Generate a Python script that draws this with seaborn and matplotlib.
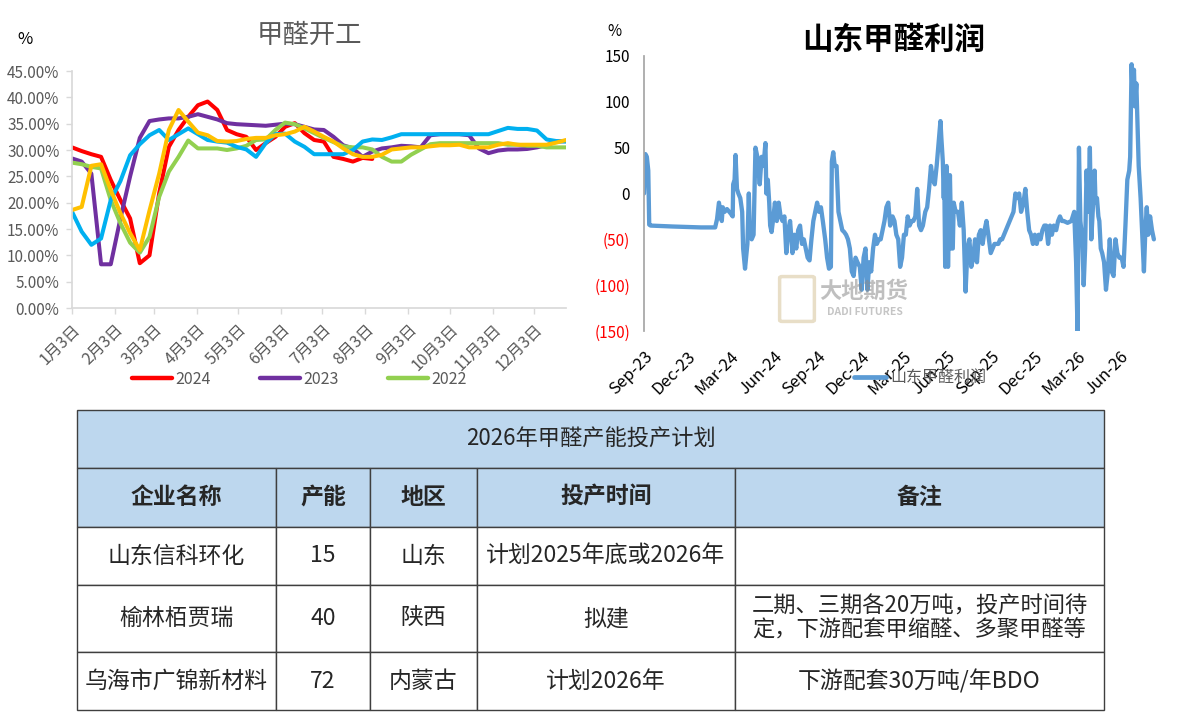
"""甲醛开工 / 山东甲醛利润 / 2026年投产计划"""

import numpy as np
import pandas as pd
import matplotlib
matplotlib.use("Agg")
import matplotlib.pyplot as plt
import matplotlib.dates as mdates
from matplotlib.lines import Line2D
from matplotlib.patches import FancyBboxPatch
from matplotlib.ticker import PercentFormatter
import seaborn as sns


# ---- 左图: 甲醛开工率 (周度, %) ----
rate_2024 = [30.5, 29.8, 29.2, 28.7, 24.3, 20.5, 17.0, 8.5, 10.0, 21.8,
             30.6, 33.8, 36.3, 38.5, 39.2, 37.6, 33.8, 33.0, 32.5, 30.0,
             31.3, 32.5, 34.4, 35.1, 33.2, 31.9, 31.6, 28.7, 28.3, 27.8,
             28.5, 28.3]
rate_2023 = [28.4, 27.8, 25.5, 8.3, 8.3, 17.0, 25.0, 32.3, 35.5, 35.8,
             36.0, 36.0, 36.3, 36.8, 36.3, 35.8, 35.1, 34.9, 34.8, 34.7,
             34.6, 34.8, 35.0, 34.9, 34.4, 33.9, 33.8, 32.5, 30.9, 30.3,
             28.7, 29.7, 30.3, 30.5, 30.8, 30.7, 30.5, 32.8, 33.0, 33.0,
             33.0, 32.8, 30.3, 29.4, 29.9, 30.1, 30.1, 30.2, 30.5, 30.9,
             31.6, 31.7]
rate_2022 = [27.6, 27.3, 26.8, 26.5, 20.5, 16.1, 12.4, 10.5, 13.5, 21.1,
             25.9, 28.7, 31.8, 30.3, 30.3, 30.3, 30.0, 30.3, 30.8, 31.9,
             32.0, 33.8, 35.2, 34.9, 34.1, 33.2, 32.3, 31.5, 30.7, 30.5,
             30.5, 30.1, 28.7, 27.8, 27.8, 29.1, 30.1, 31.1, 31.3, 31.3,
             31.3, 31.3, 31.3, 31.3, 31.3, 31.0, 31.0, 30.8, 30.8, 30.5,
             30.5, 30.5]
rate_2021 = [18.3, 14.5, 12.0, 13.2, 20.5, 24.1, 29.0, 31.1, 32.8, 33.8,
             31.9, 33.0, 34.1, 33.0, 31.9, 31.6, 31.4, 30.6, 30.1, 28.7,
             31.3, 33.0, 33.1, 31.6, 30.6, 29.2, 29.2, 29.2, 29.2, 30.0,
             31.6, 32.0, 31.9, 32.4, 33.0, 33.0, 33.0, 33.0, 33.0, 33.0,
             33.0, 33.0, 33.0, 33.0, 33.6, 34.2, 34.0, 34.0, 33.7, 32.0,
             31.7, 31.6]
rate_2025 = [18.6, 19.2, 27.0, 27.3, 22.4, 18.0, 14.2, 11.0, 18.5, 25.5,
             33.8, 37.6, 35.4, 33.3, 32.8, 31.7, 31.6, 31.7, 32.1, 32.3,
             32.3, 32.8, 33.0, 33.5, 34.4, 33.5, 32.5, 31.6, 30.3, 29.2,
             28.7, 28.7, 29.1, 30.1, 30.3, 30.5, 30.5, 30.7, 30.9, 30.9,
             31.0, 30.5, 30.5, 30.5, 31.0, 31.3, 31.0, 31.0, 31.0, 31.0,
             31.4, 31.9]
years = ["2024", "2023", "2022", "2021", "2025"]
year_colors = ["#FF0000", "#7030A0", "#92D050", "#00B0F0", "#FFC000"]
legend_years = ["2024", "2023", "2022"]
month_labels = [f"{m}月3日" for m in range(1, 13)]

# ---- 右图: 山东甲醛利润 (距2023-09-01天数, 元/吨) ----
profit_days = [0, 3, 6, 9, 11, 14, 60, 120, 150, 154, 158, 161, 164, 166, 170,
               175, 183, 187, 188, 191, 193, 196, 199, 203, 207, 209, 213, 218,
               221, 223, 227, 231, 235, 239, 244, 248, 252, 256, 258, 261, 264,
               266, 269, 273, 276, 280, 284, 288, 292, 296, 300, 304, 308, 313,
               317, 321, 325, 329, 333, 337, 341, 345, 349, 353, 357, 361, 365,
               369, 373, 377, 382, 386, 390, 394, 396, 399, 402, 406, 410, 414,
               418, 422, 426, 430, 434, 438, 442, 446, 450, 455, 459, 463, 467,
               471, 475, 479, 483, 487, 491, 495, 499, 503, 507, 511, 515, 519,
               524, 528, 532, 536, 540, 544, 548, 552, 556, 560, 564, 568, 572,
               576, 580, 584, 588, 593, 597, 601, 605, 609, 613, 617, 621, 625,
               627, 630, 632, 633, 635, 638, 641, 645, 648, 651, 653, 657, 662,
               666, 670, 674, 678, 682, 686, 690, 694, 698, 702, 706, 710, 714,
               718, 722, 726, 731, 735, 739, 743, 747, 751, 755, 759, 763, 767,
               771, 775, 779, 783, 787, 791, 795, 800, 804, 808, 812, 816, 820,
               824, 828, 832, 836, 840, 844, 848, 852, 856, 860, 864, 869, 873,
               877, 881, 885, 893, 901, 907, 911, 914, 917, 920, 924, 927, 930,
               933, 937, 940, 943, 946, 950, 952, 955, 958, 960, 963, 966, 970,
               974, 978, 982, 986, 990, 994, 998, 1002, 1007, 1011, 1015, 1019,
               1023, 1025, 1028, 1030, 1033, 1035, 1038, 1043, 1047, 1051, 1054,
               1057, 1060, 1063, 1067, 1071, 1075]
profit_vals = [0, 43, 40, 25, -34, -35, -36, -37, -37, -28, -10, -20, -30, -15, -20,
               -17, -22, -25, 10, 15, 42, 5, 0, -5, -20, -60, -82, -55,
               0, -40, -50, -45, 50, 40, 10, 40, 30, 55, 0, 15, -10,
               -35, -42, -25, -10, -30, -10, -25, -30, -25, -65, -40, -30, -65,
               -45, -60, -40, -35, -55, -50, -60, -70, -73, -50, -30, -20, -10,
               -20, -15, -30, -50, -70, -82, -80, 35, 45, 30, 30, -20, -30,
               -40, -42, -45, -50, -60, -85, -90, -70, -75, -80, -105, -70, -60,
               -105, -75, -85, -60, -45, -55, -50, -50, -40, -30, -15, -10, -35,
               -25, -30, -45, -50, -80, -70, -45, -45, -25, -35, -30, -30, -25,
               5, -35, -40, -35, -20, -15, 5, 30, 15, 10, 30, 55, 79,
               60, 35, -5, 20, -80, 30, -80, 20, -60, -60, -10, -20, -20,
               -35, -10, -40, -107, -60, -50, -80, -70, -50, -75, -45, -40, -55,
               -40, -30, -45, -65, -60, -55, -55, -55, -50, -50, -45, -40, -35,
               -30, -25, -20, 0, -5, 0, -20, -10, 5, -20, -40, -45, -55,
               -45, -55, -45, -50, -40, -35, -35, -55, -35, -45, -35, -40, -30,
               -25, -30, -30, -32, -30, -20, -75, -150, 50, -30, -50, -100, -60,
               25, -20, 50, -50, -20, 25, -10, -5, -25, -30, -60, -65, -75,
               -105, -85, -50, -85, -90, -50, -65, -70, -70, -80, -35, 15,
               25, 40, 141, 110, 135, 95, 120, 30, -5, -50, -85,
               -40, -15, -45, -25, -40, -50]
profit_ticks = [-150, -100, -50, 0, 50, 100, 150]
profit_tick_labels = ["(150)", "(100)", "(50)", "0", "50", "100", "150"]
profit_xticks = ["2023-09-01", "2023-12-01", "2024-03-01", "2024-06-01",
                 "2024-09-01", "2024-12-01", "2025-03-01", "2025-06-01",
                 "2025-09-01", "2025-12-01", "2026-03-01", "2026-06-01"]

# ---- 表格 ----
table_title = "2026年甲醛产能投产计划"
col_labels = ["企业名称", "产能", "地区", "投产时间", "备注"]
companies = ["山东信科环化", "榆林栢贾瑞", "乌海市广锦新材料"]
capacity = [15, 40, 72]
regions = ["山东", "陕西", "内蒙古"]
start_time = ["计划2025年底或2026年", "拟建", "计划2026年"]
remarks = ["", "二期、三期各20万吨，投产时间待\n定，下游配套甲缩醛、多聚甲醛等",
           "下游配套30万吨/年BDO"]


sns.set_theme(style="white")
plt.rcParams["font.family"] = ["Noto Sans CJK SC", "DejaVu Sans"]
plt.rcParams["axes.unicode_minus"] = False

W, H = 1193, 712
fig = plt.figure(figsize=(W / 100, H / 100), dpi=100)


def fx(px):
    return px / W


def fy(py):
    return 1 - py / H


# ========== 左图 ==========
ax1 = fig.add_axes([fx(72), fy(308), fx(494), 237 / H])
weeks = pd.date_range("2023-01-03", periods=52, freq="7D")
frames = []
for yr, vals in zip(years, [rate_2024, rate_2023, rate_2022, rate_2021, rate_2025]):
    frames.append(pd.DataFrame({"date": weeks[:len(vals)],
                                "rate": np.array(vals) / 100,
                                "year": yr}))
df = pd.concat(frames, ignore_index=True)
sns.lineplot(data=df, x="date", y="rate", hue="year", hue_order=years,
             palette=year_colors, linewidth=2.9, ax=ax1, legend=False,
             estimator=None)
ax1.set_ylim(0, 0.45)
ax1.set_yticks(np.arange(0, 0.451, 0.05))
ax1.yaxis.set_major_formatter(PercentFormatter(xmax=1, decimals=2))
ax1.set_xlim(weeks[0], weeks[-1])
month_ticks = pd.date_range("2023-01-01", periods=12, freq="MS") + pd.Timedelta(days=2)
ax1.set_xticks(month_ticks)
ax1.set_xticklabels(month_labels, rotation=45, ha="right", rotation_mode="anchor")
ax1.set_xlabel("")
ax1.set_ylabel("")
for s in ["top", "right"]:
    ax1.spines[s].set_visible(False)
for s in ["left", "bottom"]:
    ax1.spines[s].set_color("#D9D9D9")
ax1.tick_params(axis="both", length=4, width=1, color="#D9D9D9",
                labelcolor="#595959", labelsize=11, direction="out",
                left=True, bottom=True)
ax1.tick_params(axis="x", pad=5, labelsize=11.5)
ax1.tick_params(axis="y", pad=5)

handles = [Line2D([0], [0], color=year_colors[years.index(y)], lw=3.2)
           for y in legend_years]
ax1.legend(handles, legend_years, loc="center", bbox_to_anchor=(0.46, -0.30),
           ncol=3, frameon=False, fontsize=11.5, handlelength=2.5,
           columnspacing=3.1, handletextpad=0.2, labelcolor="#595959")

fig.text(fx(309), fy(35), "甲醛开工", ha="center", va="center",
         fontsize=19, color="#595959")
fig.text(fx(25), fy(40), "%", ha="center", va="center", fontsize=12,
         color="black")

# ========== 右图 ==========
ax2 = fig.add_axes([fx(644), fy(331), fx(517), 275 / H])
start = pd.Timestamp("2023-09-01")
pdf = pd.DataFrame({"date": start + pd.to_timedelta(profit_days, unit="D"),
                    "profit": profit_vals})
sns.lineplot(data=pdf, x="date", y="profit", color="#5B9BD5", linewidth=3.1,
             ax=ax2, estimator=None)
ax2.set_ylim(-150, 150)
ax2.set_xlim(start, start + pd.Timedelta(days=1090))
ax2.set_yticks(profit_ticks)
ax2.set_yticklabels(profit_tick_labels)
ax2.set_xticks(pd.to_datetime(profit_xticks))
ax2.xaxis.set_major_formatter(mdates.DateFormatter("%b-%y"))
plt.setp(ax2.get_xticklabels(), rotation=45, ha="right", rotation_mode="anchor")
ax2.set_xlabel("")
ax2.set_ylabel("")
for s in ["top", "right", "bottom"]:
    ax2.spines[s].set_visible(False)
ax2.spines["left"].set_color("#A6A6A6")
ax2.tick_params(axis="both", length=0, labelsize=11)
ax2.tick_params(axis="y", pad=10)
ax2.tick_params(axis="x", pad=12, labelsize=12, labelcolor="black")
for lab, v in zip(ax2.get_yticklabels(), profit_ticks):
    lab.set_color("#FF0000" if v < 0 else "black")

ax2.legend([Line2D([0], [0], color="#5B9BD5", lw=3.4)], ["山东甲醛利润"],
           loc="center", bbox_to_anchor=(0.534, -0.17), frameon=False,
           fontsize=11.5, handlelength=2.0, handletextpad=0.3,
           labelcolor="#595959")

fig.text(fx(894), fy(40), "山东甲醛利润", ha="center", va="center",
         fontsize=22, fontweight="bold", color="black")
fig.text(fx(614), fy(32), "%", ha="center", va="center", fontsize=11,
         color="black")

# 水印
fig.patches.append(FancyBboxPatch((fx(782), fy(320)), fx(30), 42 / H,
                                  boxstyle="round,pad=0.002",
                                  transform=fig.transFigure, facecolor="none",
                                  edgecolor="#D9C9A3", lw=2.5, alpha=0.6))
fig.text(fx(864), fy(291), "大地期货", ha="center", va="center", fontsize=16,
         fontweight="bold", color="#8C8C8C", alpha=0.55)
fig.text(fx(865), fy(312), "DADI FUTURES", ha="center", va="center",
         fontsize=7.5, fontweight="bold", color="#8C8C8C", alpha=0.5)

# ========== 表格 ==========
tax = fig.add_axes([fx(77), fy(710), fx(1027), 300 / H])
tax.axis("off")
header_blue = "#BDD7EE"
edge = "#3F3F3F"

t_title = tax.table(cellText=[[table_title]], cellLoc="center",
                    bbox=[0, 242 / 300, 1, 58 / 300])
t_title.auto_set_font_size(False)
c = t_title[0, 0]
c.set_facecolor(header_blue)
c.set_edgecolor(edge)
c.get_text().set_fontsize(16)

rows = [[companies[i], str(capacity[i]), regions[i], start_time[i], remarks[i]]
        for i in range(len(companies))]
col_w = [199, 94, 107, 258, 369]
tbl = tax.table(cellText=rows, colLabels=col_labels, cellLoc="center",
                colWidths=[w / sum(col_w) for w in col_w],
                bbox=[0, 0, 1, 242 / 300])
tbl.auto_set_font_size(False)
row_h = [59, 58, 67, 58]
for (r, ccol), cell in tbl.get_celld().items():
    cell.set_height(row_h[r])
    cell.set_edgecolor(edge)
    cell.set_linewidth(1.0)
    txt = cell.get_text()
    if r == 0:
        cell.set_facecolor(header_blue)
        txt.set_fontsize(16.5)
        txt.set_fontweight("bold")
    else:
        cell.set_facecolor("white")
        txt.set_fontsize(16 if (r == 2 and ccol == 4) else 16.5)
        txt.set_linespacing(1.05)

fig.savefig("out.png", dpi=100)
